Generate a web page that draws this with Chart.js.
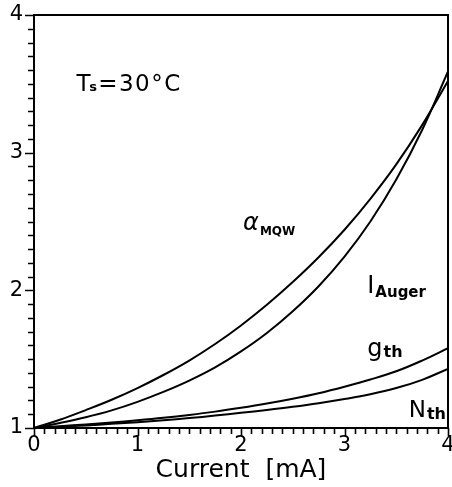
<!DOCTYPE html>
<html>
<head>
<meta charset="utf-8">
<script src="https://cdn.jsdelivr.net/npm/chart.js@4.4.0/dist/chart.umd.min.js"></script>
<style>
  body { margin: 0; background: #fff; }
  #wrap { width: 452px; height: 487px; position: relative; }
</style>
</head>
<body>
<div id="wrap"><canvas id="chart"></canvas></div>
<script>
// values (normalised to 1 at 0 mA)
const currentMA = [0, 0.25, 0.5, 0.75, 1, 1.25, 1.5, 1.75, 2, 2.25, 2.5, 2.75, 3, 3.25, 3.5, 3.75, 4];
const alphaMQW = [1.00, 1.06, 1.13, 1.205, 1.29, 1.385, 1.49, 1.61, 1.745, 1.895, 2.06, 2.24, 2.44, 2.665, 2.915, 3.20, 3.52];
const iAuger   = [1.00, 1.037, 1.078, 1.128, 1.19, 1.262, 1.344, 1.44, 1.556, 1.69, 1.848, 2.03, 2.245, 2.50, 2.805, 3.165, 3.59];
const gTh      = [1.00, 1.013, 1.026, 1.04, 1.056, 1.074, 1.095, 1.119, 1.147, 1.178, 1.213, 1.253, 1.30, 1.352, 1.412, 1.49, 1.58];
const nTh      = [1.00, 1.009, 1.019, 1.03, 1.042, 1.056, 1.072, 1.09, 1.11, 1.131, 1.154, 1.18, 1.21, 1.245, 1.29, 1.35, 1.43];

const xTicks = [0, 1, 2, 3, 4];
const yTicks = [1, 2, 3, 4];

const FONT = '"DejaVu Sans", "Liberation Sans", sans-serif';

function pts(ys) {
  return currentMA.map((x, i) => ({ x: x, y: ys[i] }));
}

function isMajor(v, list) {
  return list.some(t => Math.abs(t - v) < 1e-6);
}

function curve(data) {
  return {
    data: pts(data),
    borderColor: '#000',
    borderWidth: 2,
    pointRadius: 0,
    fill: false,
    tension: 0.4
  };
}

// draws text + subscript at a data position (left edge, baseline)
function label(ctx, x, y, main, sub, mainFont, subFont, drop) {
  ctx.font = mainFont;
  ctx.fillText(main, x, y);
  const w = ctx.measureText(main).width;
  ctx.font = subFont;
  ctx.fillText(sub, x + w + 1, y + drop);
}

const boxAndTicks = {
  id: 'boxAndTicks',
  afterDraw(chart) {
    const { ctx, chartArea: a, scales: { x, y } } = chart;
    ctx.save();
    ctx.strokeStyle = '#000';
    ctx.fillStyle = '#000';
    ctx.lineWidth = 2;
    ctx.strokeRect(a.left, a.top, a.right - a.left, a.bottom - a.top);

    // tick marks, outside the frame
    ctx.lineWidth = 1.6;
    ctx.beginPath();
    x.ticks.forEach(t => {
      const px = Math.round(x.getPixelForValue(t.value)) + 0.5;
      ctx.moveTo(px, a.bottom);
      ctx.lineTo(px, a.bottom + (isMajor(t.value, xTicks) ? 8 : 6));
    });
    y.ticks.forEach(t => {
      const py = Math.round(y.getPixelForValue(t.value)) + 0.5;
      ctx.moveTo(a.left, py);
      ctx.lineTo(a.left - (isMajor(t.value, yTicks) ? 9 : 6), py);
    });
    ctx.stroke();

    // annotations
    ctx.textAlign = 'left';
    ctx.textBaseline = 'alphabetic';
    const X = v => x.getPixelForValue(v);
    const Y = v => y.getPixelForValue(v);

    // T_s=30°C
    ctx.font = '23px ' + FONT;
    ctx.fillText('T', X(0.41), Y(3.45));
    ctx.font = 'bold 13px ' + FONT;
    ctx.fillText('s', X(0.535), Y(3.45));
    ctx.font = '23px ' + FONT;
    ctx.letterSpacing = '1.5px';
    ctx.fillText('=30°C', X(0.62), Y(3.45));
    ctx.letterSpacing = '0px';

    label(ctx, X(2.02), Y(2.44), 'α', 'MQW', 'italic 24px ' + FONT, 'bold 12px ' + FONT, 5);
    label(ctx, X(3.22), Y(1.98), 'I', 'Auger', '24px ' + FONT, 'bold 15px ' + FONT, 4);
    label(ctx, X(3.22), Y(1.52), 'g', 'th', '24px ' + FONT, 'bold 16px ' + FONT, 1);
    label(ctx, X(3.62), Y(1.08), 'N', 'th', '23px ' + FONT, 'bold 16px ' + FONT, 2);
    ctx.restore();
  }
};

new Chart(document.getElementById('chart'), {
  type: 'line',
  data: {
    datasets: [curve(alphaMQW), curve(iAuger), curve(gTh), curve(nTh)]
  },
  options: {
    responsive: true,
    maintainAspectRatio: false,
    animation: false,
    layout: { padding: { top: 15, right: 4, left: 0, bottom: 0 } },
    plugins: { legend: { display: false }, tooltip: { enabled: false } },
    scales: {
      x: {
        type: 'linear',
        min: 0,
        max: 4,
        afterFit(s) { s.height = 59; s.paddingLeft = 0; s.paddingRight = 0; },
        grid: { drawOnChartArea: false, drawTicks: false },
        border: { display: false },
        ticks: {
          stepSize: 0.1,
          autoSkip: false,
          maxRotation: 0,
          padding: 5,
          color: '#000',
          font: { family: FONT, size: 21 },
          callback: v => isMajor(v, xTicks) ? String(Math.round(v)) : ''
        },
        title: {
          display: true,
          text: 'Current  [mA]',
          color: '#000',
          font: { family: FONT, size: 25 },
          padding: { top: 0, bottom: 2 }
        }
      },
      y: {
        type: 'linear',
        min: 1,
        max: 4,
        afterFit(s) { s.width = 34; s.paddingTop = 0; s.paddingBottom = 0; },
        grid: { drawOnChartArea: false, drawTicks: false },
        border: { display: false },
        ticks: {
          stepSize: 0.1,
          autoSkip: false,
          padding: 11,
          color: '#000',
          font: { family: FONT, size: 21 },
          callback: v => isMajor(v, yTicks) ? String(Math.round(v)) : ''
        }
      }
    }
  },
  plugins: [boxAndTicks]
});
</script>
</body>
</html>
